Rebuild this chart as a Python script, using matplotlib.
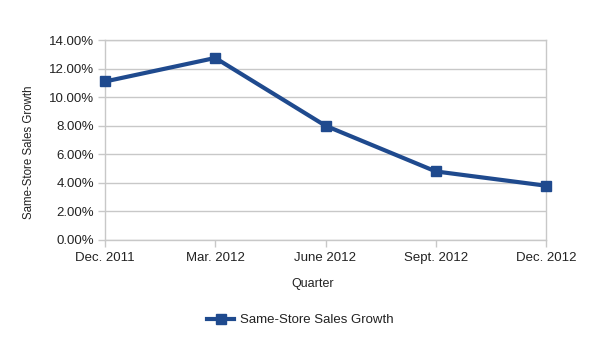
import matplotlib
matplotlib.use("Agg")
import matplotlib.pyplot as plt
from matplotlib.ticker import FuncFormatter

quarters = ["Dec. 2011", "Mar. 2012", "June 2012", "Sept. 2012", "Dec. 2012"]
growth = [11.1, 12.75, 8.0, 4.8, 3.8]
series_name = "Same-Store Sales Growth"
y_ticks = [0, 2, 4, 6, 8, 10, 12, 14]

plt.rcParams["font.family"] = ["Liberation Sans", "DejaVu Sans"]

fig = plt.figure(figsize=(6.0, 3.37), dpi=100)
ax = fig.add_axes([0.175, 0.288, 0.735, 0.593])

line_color = "#1f4a8e"
grid_color = "#c8c8c8"
text_color = "#222222"

x = list(range(len(quarters)))
ax.plot(x, growth, color=line_color, linewidth=3.0, marker="s",
        markersize=7.5, label=series_name, zorder=3, clip_on=False)

ax.set_xlim(0, len(quarters) - 1)
ax.set_ylim(0, 14)
ax.set_yticks(y_ticks)
ax.yaxis.set_major_formatter(FuncFormatter(lambda v, _: f"{v:.2f}%"))
ax.set_xticks(x)
ax.set_xticklabels(quarters)

ax.grid(axis="y", color=grid_color, linewidth=1.0)
ax.set_axisbelow(True)
for side in ("left", "right", "top", "bottom"):
    ax.spines[side].set_color(grid_color)
    ax.spines[side].set_linewidth(1.0)

ax.tick_params(axis="both", colors=grid_color, labelcolor=text_color,
               labelsize=9.5, length=5, width=1.0, direction="out")
ax.tick_params(axis="y", pad=3)
ax.tick_params(axis="x", pad=4)

ax.set_ylabel(series_name, fontsize=8.3, color=text_color)
ax.yaxis.set_label_coords(-0.158, 0.44)
ax.set_xlabel("Quarter", fontsize=9, color=text_color, labelpad=8)
ax.xaxis.set_label_coords(0.47, -0.19)

fig.legend(loc="center", bbox_to_anchor=(0.5, 0.05), frameon=False,
           fontsize=9.5, handlelength=2.1, handletextpad=0.4,
           labelcolor=text_color)

fig.savefig("out.png", dpi=100, facecolor="white")
